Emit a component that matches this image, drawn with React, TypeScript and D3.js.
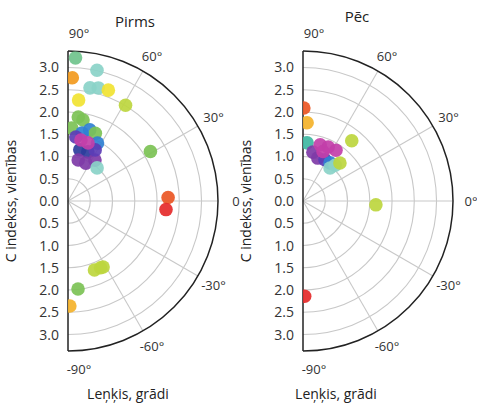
import React from "react";
import * as d3 from "d3";

// angle in degrees, value = C index
const groups = [
  "S1", "S2", "S3", "S4", "S5", "S6", "S7", "S8",
  "S9", "S10", "S11", "S12", "S13", "S14", "S15",
];
const groupColors = [
  "#e52a2a", "#ea5624", "#f29a1e", "#f4b22a", "#f1e332", "#bdd63e",
  "#7cc255", "#6fc38c", "#8ad3c8", "#3fb7a2", "#3080d2", "#2c3d9c",
  "#5c3db6", "#7e3ba7", "#c23fa9",
];

const beforeAngle = [
  87, 88, 77.5, 79, 75, 70, 84, 59, 83, 79.5, 87, 31,
  73, 68, 78.4, 83, 63, 77, 68, 76, 64.7, 56.6, 62, 48.7, 78, 71,
  2, -5, -69, -64, -62, -83.5, -89,
];
const beforeValue = [
  3.22, 2.77, 3.01, 2.59, 2.63, 2.65, 2.28, 2.51, 1.9, 1.85, 1.64, 2.16,
  1.67, 1.64, 1.56, 1.45, 1.46, 1.18, 1.19, 0.95, 0.94, 1.1, 1.3, 0.99, 1.4, 1.38,
  2.25, 2.21, 1.66, 1.67, 1.68, 1.99, 2.36,
];
const beforeGroup = [
  "S8", "S3", "S9", "S9", "S9", "S5", "S5", "S6", "S7", "S7", "S7", "S7",
  "S11", "S7", "S11", "S13", "S11", "S12", "S12", "S14", "S14", "S14", "S13", "S9", "S15", "S15",
  "S2", "S1", "S6", "S6", "S6", "S7", "S4",
];

const afterAngle = [
  89.5, 87, 86, 51, 78.5, 71, 62, 54.6, 48, 50.7, 45.8, 73, 65, 57, 68, -3, -89,
];
const afterValue = [
  2.09, 1.76, 1.31, 1.74, 1.12, 1.02, 1.05, 1.05, 1.08, 0.96, 1.19, 1.32, 1.34, 1.36, 1.2, 1.64, 2.14,
];
const afterGroup = [
  "S2", "S4", "S10", "S6", "S14", "S14", "S13", "S11", "S9", "S9", "S6", "S15", "S15", "S15", "S15", "S6", "S1",
];

const radialTicks = [0.5, 1, 1.5, 2, 2.5, 3];
const angleTicks = [90, 60, 30, 0, -30, -60, -90];

const color = d3.scaleOrdinal<string, string>().domain(groups).range(groupColors);
const rScale = d3.scaleLinear().domain([0, 3.37]).range([0, 150]);
const R = 150;
const font = "'Open Sans', sans-serif";

const halfArc = (r: number) =>
  d3.arc()({ innerRadius: 0, outerRadius: r, startAngle: 0, endAngle: Math.PI }) as string;
const ringArc = (r: number) =>
  d3.arc()({ innerRadius: r, outerRadius: r, startAngle: 0, endAngle: Math.PI }) as string;

const rad = (deg: number) => (deg * Math.PI) / 180;

type PanelProps = {
  id: string;
  cx: number;
  cy: number;
  title: string;
  titleX: number;
  titleY: number;
  xTitleX: number;
  zeroLabel: string;
  angles: number[];
  values: number[];
  grp: string[];
};

const Panel = ({ id, cx, cy, title, titleX, titleY, xTitleX, zeroLabel, angles, values, grp }: PanelProps) => {
  const labelTicks = [3, 2.5, 2, 1.5, 1, 0.5];
  return (
    <g>
      <defs>
        <clipPath id={id}>
          <path d={halfArc(R)} transform={`translate(${cx},${cy})`} />
        </clipPath>
      </defs>
      <g transform={`translate(${cx},${cy})`}>
        {radialTicks.map((t) => (
          <path key={t} d={ringArc(rScale(t))} fill="none" stroke="#c8c8c8" strokeWidth={1.1} />
        ))}
        {angleTicks.slice(1, -1).map((a) => (
          <line key={a} x1={0} y1={0} x2={R * Math.cos(rad(a))} y2={-R * Math.sin(rad(a))} stroke="#c8c8c8" strokeWidth={1.1} />
        ))}
        <path d={ringArc(R)} fill="none" stroke="#222" strokeWidth={1.5} />
        <line x1={0} y1={-R} x2={0} y2={R} stroke="#222" strokeWidth={1.5} />
      </g>
      <g clipPath={`url(#${id})`}>
        {angles.map((a, i) => (
          <circle
            key={i}
            cx={cx + rScale(values[i]) * Math.cos(rad(a))}
            cy={cy - rScale(values[i]) * Math.sin(rad(a))}
            r={6.8}
            fill={color(grp[i])}
            opacity={0.92}
          />
        ))}
      </g>
      <g fontFamily={font} fontSize={14} fill="#333" textAnchor="end">
        {labelTicks.map((t) => (
          <text key={"u" + t} x={cx - 9} y={cy - rScale(t) + 5}>{t.toFixed(1)}</text>
        ))}
        <text x={cx - 9} y={cy + 5}>0.0</text>
        {labelTicks.slice().reverse().map((t) => (
          <text key={"d" + t} x={cx - 9} y={cy + rScale(t) + 5}>{t.toFixed(1)}</text>
        ))}
      </g>
      <g fontFamily={font} fontSize={13} fill="#333" textAnchor="middle">
        {angleTicks.map((a) => {
          const off = Math.abs(a) === 90 ? 11 : 0;
          return (
            <text key={a} x={cx + 168 * Math.cos(rad(a)) + off} y={cy - 168 * Math.sin(rad(a)) + 5}>
              {a === 0 ? zeroLabel : `${a}°`}
            </text>
          );
        })}
      </g>
      <text x={titleX} y={titleY} fontFamily={font} fontSize={15} fill="#222" textAnchor="middle">{title}</text>
      <text
        transform={`translate(${cx - 52},${cy}) rotate(-90)`}
        fontFamily={font}
        fontSize={14}
        fill="#222"
        textAnchor="middle"
      >
        C indekss, vienības
      </text>
      <text x={xTitleX} y={399} fontFamily={font} fontSize={14} fill="#222" textAnchor="middle">Leņķis, grādi</text>
    </g>
  );
};

export default function App() {
  return (
    <svg width={477} height={406} style={{ position: "absolute", left: 0, top: 0, background: "#fff" }}>
      <Panel id="c1" cx={68} cy={201} title="Pirms" titleX={135} titleY={27} xTitleX={128} zeroLabel="0"
        angles={beforeAngle} values={beforeValue} grp={beforeGroup} />
      <Panel id="c2" cx={303} cy={201} title="Pēc" titleX={357} titleY={22} xTitleX={336} zeroLabel="0°"
        angles={afterAngle} values={afterValue} grp={afterGroup} />
    </svg>
  );
}
